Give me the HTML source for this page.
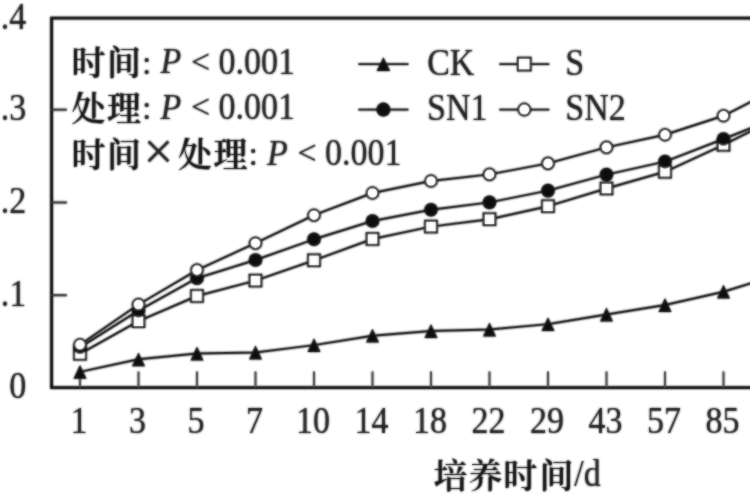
<!DOCTYPE html>
<html><head><meta charset="utf-8"><title>chart</title>
<style>
html,body{margin:0;padding:0;background:#fff;}
body{width:750px;height:500px;overflow:hidden;}
svg{display:block;will-change:transform;}
.t{font-family:'Liberation Serif', 'Times New Roman', serif;font-size:34px;fill:#1c1c1c;}
.i{font-style:italic;}
.c{font-family:'Liberation Serif', 'Noto Serif CJK SC', serif;font-size:34px;font-weight:600;fill:#111;}
.b{font-weight:600;}
</style></head><body>
<svg width="750" height="500" viewBox="0 0 750 500">
<defs><filter id="soft" x="0" y="0" width="750" height="500" filterUnits="userSpaceOnUse">
<feGaussianBlur in="SourceGraphic" stdDeviation="0.8" result="b"/>
<feComponentTransfer in="SourceGraphic" result="s"><feFuncA type="linear" slope="0.55"/></feComponentTransfer>
<feMerge><feMergeNode in="b"/><feMergeNode in="s"/></feMerge>
</filter></defs>
<rect width="750" height="500" fill="#fff"/>
<g filter="url(#soft)">
<path d="M51.6,18.2 L51.6,387.6 L760,387.6 M50.2,18.2 L760,18.2" fill="none" stroke="#111" stroke-width="2.8"/>
<path d="M51.6,295.2 L66.8,295.2" stroke="#333" stroke-width="2.1"/>
<path d="M51.6,202.5 L66.8,202.5" stroke="#333" stroke-width="2.1"/>
<path d="M51.6,109.7 L66.8,109.7" stroke="#333" stroke-width="2.1"/>
<path d="M80.0,387.6 L80.0,371.5" stroke="#444" stroke-width="2.0"/>
<path d="M138.5,387.6 L138.5,371.5" stroke="#444" stroke-width="2.0"/>
<path d="M197.0,387.6 L197.0,371.5" stroke="#444" stroke-width="2.0"/>
<path d="M255.5,387.6 L255.5,371.5" stroke="#444" stroke-width="2.0"/>
<path d="M314.0,387.6 L314.0,371.5" stroke="#444" stroke-width="2.0"/>
<path d="M372.5,387.6 L372.5,371.5" stroke="#444" stroke-width="2.0"/>
<path d="M431.0,387.6 L431.0,371.5" stroke="#444" stroke-width="2.0"/>
<path d="M489.5,387.6 L489.5,371.5" stroke="#444" stroke-width="2.0"/>
<path d="M548.0,387.6 L548.0,371.5" stroke="#444" stroke-width="2.0"/>
<path d="M606.5,387.6 L606.5,371.5" stroke="#444" stroke-width="2.0"/>
<path d="M665.0,387.6 L665.0,371.5" stroke="#444" stroke-width="2.0"/>
<path d="M723.5,387.6 L723.5,371.5" stroke="#444" stroke-width="2.0"/>
<polyline points="80.0,371.9 138.5,359.3 197.0,353.5 255.5,352.5 314.0,345.1 372.5,335.7 431.0,331.0 489.5,329.5 548.0,324.1 606.5,314.5 665.0,305.0 723.5,291.7 782.0,273.6" fill="none" stroke="#111" stroke-width="1.95" stroke-linejoin="round"/>
<path d="M80.0,365.0 L86.5,378.8 L73.5,378.8 Z" fill="#111"/>
<path d="M138.5,352.4 L145.0,366.2 L132.0,366.2 Z" fill="#111"/>
<path d="M197.0,346.6 L203.5,360.4 L190.5,360.4 Z" fill="#111"/>
<path d="M255.5,345.6 L262.0,359.4 L249.0,359.4 Z" fill="#111"/>
<path d="M314.0,338.2 L320.5,352.0 L307.5,352.0 Z" fill="#111"/>
<path d="M372.5,328.8 L379.0,342.6 L366.0,342.6 Z" fill="#111"/>
<path d="M431.0,324.1 L437.5,337.9 L424.5,337.9 Z" fill="#111"/>
<path d="M489.5,322.6 L496.0,336.4 L483.0,336.4 Z" fill="#111"/>
<path d="M548.0,317.2 L554.5,331.0 L541.5,331.0 Z" fill="#111"/>
<path d="M606.5,307.6 L613.0,321.4 L600.0,321.4 Z" fill="#111"/>
<path d="M665.0,298.1 L671.5,311.9 L658.5,311.9 Z" fill="#111"/>
<path d="M723.5,284.8 L730.0,298.6 L717.0,298.6 Z" fill="#111"/>
<polyline points="80.0,353.8 138.5,321.2 197.0,296.0 255.5,280.6 314.0,260.3 372.5,239.0 431.0,226.6 489.5,219.2 548.0,206.2 606.5,188.5 665.0,171.8 723.5,144.8 782.0,115.6" fill="none" stroke="#111" stroke-width="1.95" stroke-linejoin="round"/>
<rect x="74.2" y="348.0" width="11.6" height="11.6" fill="#fff" stroke="#111" stroke-width="2.0"/>
<rect x="132.7" y="315.4" width="11.6" height="11.6" fill="#fff" stroke="#111" stroke-width="2.0"/>
<rect x="191.2" y="290.2" width="11.6" height="11.6" fill="#fff" stroke="#111" stroke-width="2.0"/>
<rect x="249.7" y="274.8" width="11.6" height="11.6" fill="#fff" stroke="#111" stroke-width="2.0"/>
<rect x="308.2" y="254.5" width="11.6" height="11.6" fill="#fff" stroke="#111" stroke-width="2.0"/>
<rect x="366.7" y="233.2" width="11.6" height="11.6" fill="#fff" stroke="#111" stroke-width="2.0"/>
<rect x="425.2" y="220.8" width="11.6" height="11.6" fill="#fff" stroke="#111" stroke-width="2.0"/>
<rect x="483.7" y="213.4" width="11.6" height="11.6" fill="#fff" stroke="#111" stroke-width="2.0"/>
<rect x="542.2" y="200.4" width="11.6" height="11.6" fill="#fff" stroke="#111" stroke-width="2.0"/>
<rect x="600.7" y="182.7" width="11.6" height="11.6" fill="#fff" stroke="#111" stroke-width="2.0"/>
<rect x="659.2" y="166.0" width="11.6" height="11.6" fill="#fff" stroke="#111" stroke-width="2.0"/>
<rect x="717.7" y="139.0" width="11.6" height="11.6" fill="#fff" stroke="#111" stroke-width="2.0"/>
<polyline points="80.0,347.3 138.5,310.6 197.0,278.2 255.5,260.0 314.0,239.3 372.5,221.0 431.0,209.8 489.5,202.4 548.0,190.6 606.5,174.6 665.0,161.6 723.5,139.0 782.0,115.8" fill="none" stroke="#111" stroke-width="1.95" stroke-linejoin="round"/>
<circle cx="80.0" cy="347.3" r="6.8" fill="#111"/>
<circle cx="138.5" cy="310.6" r="6.8" fill="#111"/>
<circle cx="197.0" cy="278.2" r="6.8" fill="#111"/>
<circle cx="255.5" cy="260.0" r="6.8" fill="#111"/>
<circle cx="314.0" cy="239.3" r="6.8" fill="#111"/>
<circle cx="372.5" cy="221.0" r="6.8" fill="#111"/>
<circle cx="431.0" cy="209.8" r="6.8" fill="#111"/>
<circle cx="489.5" cy="202.4" r="6.8" fill="#111"/>
<circle cx="548.0" cy="190.6" r="6.8" fill="#111"/>
<circle cx="606.5" cy="174.6" r="6.8" fill="#111"/>
<circle cx="665.0" cy="161.6" r="6.8" fill="#111"/>
<circle cx="723.5" cy="139.0" r="6.8" fill="#111"/>
<polyline points="80.0,344.7 138.5,304.5 197.0,270.1 255.5,243.2 314.0,215.2 372.5,193.0 431.0,181.0 489.5,174.4 548.0,163.4 606.5,147.4 665.0,134.8 723.5,115.8 782.0,85.8" fill="none" stroke="#111" stroke-width="1.95" stroke-linejoin="round"/>
<circle cx="80.0" cy="344.7" r="5.8" fill="#fff" stroke="#111" stroke-width="2.0"/>
<circle cx="138.5" cy="304.5" r="5.8" fill="#fff" stroke="#111" stroke-width="2.0"/>
<circle cx="197.0" cy="270.1" r="5.8" fill="#fff" stroke="#111" stroke-width="2.0"/>
<circle cx="255.5" cy="243.2" r="5.8" fill="#fff" stroke="#111" stroke-width="2.0"/>
<circle cx="314.0" cy="215.2" r="5.8" fill="#fff" stroke="#111" stroke-width="2.0"/>
<circle cx="372.5" cy="193.0" r="5.8" fill="#fff" stroke="#111" stroke-width="2.0"/>
<circle cx="431.0" cy="181.0" r="5.8" fill="#fff" stroke="#111" stroke-width="2.0"/>
<circle cx="489.5" cy="174.4" r="5.8" fill="#fff" stroke="#111" stroke-width="2.0"/>
<circle cx="548.0" cy="163.4" r="5.8" fill="#fff" stroke="#111" stroke-width="2.0"/>
<circle cx="606.5" cy="147.4" r="5.8" fill="#fff" stroke="#111" stroke-width="2.0"/>
<circle cx="665.0" cy="134.8" r="5.8" fill="#fff" stroke="#111" stroke-width="2.0"/>
<circle cx="723.5" cy="115.8" r="5.8" fill="#fff" stroke="#111" stroke-width="2.0"/>
<text transform="translate(26.3,397.9) scale(1,1.09)" class="t" text-anchor="end">0</text>
<text transform="translate(26.3,305.5) scale(1,1.09)" class="t" text-anchor="end">.1</text>
<text transform="translate(26.3,212.8) scale(1,1.09)" class="t" text-anchor="end">.2</text>
<text transform="translate(26.3,120.0) scale(1,1.09)" class="t" text-anchor="end">.3</text>
<text transform="translate(26.3,28.7) scale(1,1.09)" class="t" text-anchor="end">.4</text>
<text transform="translate(79.0,433.4) scale(1,1.09)" class="t" text-anchor="middle">1</text>
<text transform="translate(137.5,433.4) scale(1,1.09)" class="t" text-anchor="middle">3</text>
<text transform="translate(196.0,433.4) scale(1,1.09)" class="t" text-anchor="middle">5</text>
<text transform="translate(254.5,433.4) scale(1,1.09)" class="t" text-anchor="middle">7</text>
<text transform="translate(313.0,433.4) scale(1,1.09)" class="t" text-anchor="middle">10</text>
<text transform="translate(371.5,433.4) scale(1,1.09)" class="t" text-anchor="middle">14</text>
<text transform="translate(430.0,433.4) scale(1,1.09)" class="t" text-anchor="middle">18</text>
<text transform="translate(488.5,433.4) scale(1,1.09)" class="t" text-anchor="middle">22</text>
<text transform="translate(547.0,433.4) scale(1,1.09)" class="t" text-anchor="middle">29</text>
<text transform="translate(605.5,433.4) scale(1,1.09)" class="t" text-anchor="middle">43</text>
<text transform="translate(664.0,433.4) scale(1,1.09)" class="t" text-anchor="middle">57</text>
<text transform="translate(722.5,433.4) scale(1,1.09)" class="t" text-anchor="middle">85</text>
<text x="71.5" y="75.0" class="c">时</text>
<text x="107.0" y="75.0" class="c">间</text>
<text x="142.0" y="73.5" class="t">:</text>
<text transform="translate(160.5,73.0) scale(1,1.05)" class="t i">P</text>
<text x="191.0" y="72.7" class="t">&lt;</text>
<text transform="translate(218.5,73.6) scale(1,1.09)" class="t">0.001</text>
<text x="71.5" y="121.0" class="c">处</text>
<text x="107.0" y="121.0" class="c">理</text>
<text x="142.0" y="119.1" class="t">:</text>
<text transform="translate(160.5,118.6) scale(1,1.05)" class="t i">P</text>
<text x="191.0" y="118.3" class="t">&lt;</text>
<text transform="translate(218.5,119.2) scale(1,1.09)" class="t">0.001</text>
<text x="71.5" y="167.0" class="c">时</text>
<text x="107.0" y="167.0" class="c">间</text>
<text class="t" style="font-size:53px;stroke:none" x="143.5" y="169.0">×</text>
<text x="178.0" y="167.0" class="c">处</text>
<text x="213.5" y="167.0" class="c">理</text>
<text x="248.5" y="165.0" class="t">:</text>
<text transform="translate(267.0,164.5) scale(1,1.05)" class="t i">P</text>
<text x="297.5" y="164.2" class="t">&lt;</text>
<text transform="translate(325.0,165.1) scale(1,1.09)" class="t">0.001</text>
<path d="M358.4,64.1 L408.4,64.1" stroke="#111" stroke-width="1.95"/>
<path d="M383.4,57.2 L390.2,71.0 L376.6,71.0 Z" fill="#111"/>
<text transform="translate(427.2,74.6) scale(1,1.09)" class="t">CK</text>
<path d="M499.3,64.1 L549.3,64.1" stroke="#111" stroke-width="1.95"/>
<rect x="518.0" y="57.8" width="12.6" height="12.6" fill="#fff" stroke="#111" stroke-width="2.0"/>
<text transform="translate(565.3,74.6) scale(1,1.09)" class="t">S</text>
<path d="M358.4,109.6 L408.4,109.6" stroke="#111" stroke-width="1.95"/>
<circle cx="383.4" cy="109.6" r="7.0" fill="#111"/>
<text transform="translate(427.1,120.1) scale(1,1.09)" class="t">SN1</text>
<path d="M499.3,109.6 L549.3,109.6" stroke="#111" stroke-width="1.95"/>
<circle cx="524.3" cy="109.6" r="6.0" fill="#fff" stroke="#111" stroke-width="2.0"/>
<text transform="translate(565.3,120.1) scale(1,1.09)" class="t">SN2</text>
<text x="433.6" y="487.8" class="c b">培</text>
<text x="468.6" y="487.8" class="c b">养</text>
<text x="503.3" y="487.8" class="c b">时</text>
<text x="539.5" y="487.8" class="c b">间</text>
<text transform="translate(574.3,486.2) scale(1,1.09)" class="t">/d</text>
</g>
</svg>
</body></html>
